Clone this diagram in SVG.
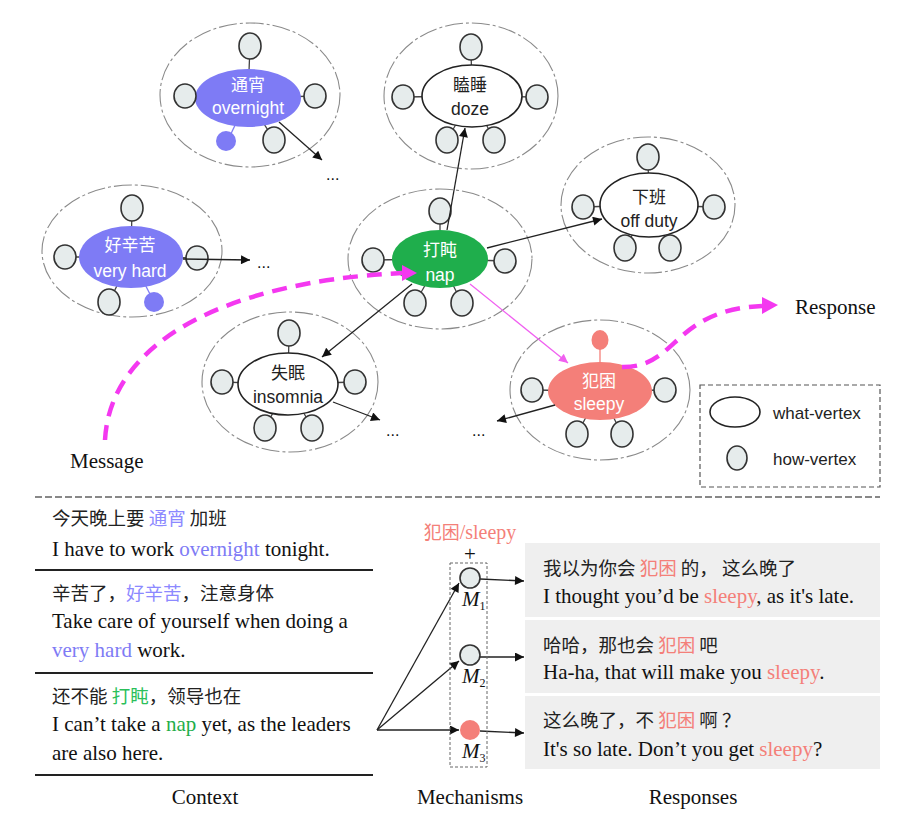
<svg xmlns="http://www.w3.org/2000/svg" width="900" height="830" viewBox="0 0 900 830">
<style>
.cl{fill:none;stroke:#8a8a8a;stroke-width:1.1;stroke-dasharray:18 3 3 3}
.hv{fill:#e6ecec;stroke:#333;stroke-width:1.6}
.sp{stroke:#444;stroke-width:1.3}
.wv{fill:#fff;stroke:#222;stroke-width:1.6}
.nt{font-family:"Liberation Sans",Arial,sans-serif;font-size:17.5px;text-anchor:middle}
.nc{font-family:"Noto Sans CJK SC",sans-serif;font-size:17px;text-anchor:middle}
.w{fill:#fff}
.k{fill:#222}
.e{stroke:#222;stroke-width:1.3;fill:none}
.ser{font-family:"Liberation Serif","Times New Roman",serif;font-size:21px;fill:#111}
.cjk{font-family:"Noto Sans CJK SC",sans-serif;font-size:18.5px;fill:#222}
.dots{font-family:"Liberation Sans",Arial,sans-serif;font-size:16px;fill:#111}
.mag{fill:none;stroke:#f438f0;stroke-width:4.5;stroke-dasharray:15 9}
</style>
<defs>
<marker id="ah" viewBox="0 0 10 10" refX="10" refY="5" markerWidth="12" markerHeight="9" markerUnits="userSpaceOnUse" orient="auto"><path d="M0,0 L10,5 L0,10 z" fill="#111"/></marker>
<marker id="ahp" viewBox="0 0 10 10" refX="10" refY="5" markerWidth="12" markerHeight="9" markerUnits="userSpaceOnUse" orient="auto"><path d="M0,0 L10,5 L0,10 z" fill="#f060f0"/></marker>
</defs>

<!-- overnight cluster -->
<g id="overnight">
<ellipse class="cl" cx="250" cy="95" rx="90" ry="72"/>
<line class="sp" x1="248" y1="98" x2="250" y2="45"/>
<line class="sp" x1="248" y1="98" x2="185" y2="96"/>
<line class="sp" x1="248" y1="98" x2="315" y2="96"/>
<line class="sp" x1="248" y1="98" x2="274" y2="140"/>
<line x1="248" y1="98" x2="228" y2="140" stroke="#7e7bf5" stroke-width="1.3"/>
<ellipse cx="248" cy="98" rx="53" ry="29" fill="#7e7bf5"/>
<ellipse class="hv" cx="250" cy="46" rx="11" ry="13"/>
<ellipse class="hv" cx="185" cy="96" rx="11" ry="12"/>
<ellipse class="hv" cx="315" cy="96" rx="11" ry="12"/>
<ellipse class="hv" cx="274" cy="140" rx="11" ry="13"/>
<circle cx="226" cy="141" r="10" fill="#7e7bf5"/>
<text class="nc w" x="248" y="91">通宵</text>
<text class="nt w" x="248" y="114">overnight</text>
</g>

<!-- very hard cluster -->
<g id="veryhard">
<ellipse class="cl" cx="132" cy="251" rx="90" ry="66"/>
<line class="sp" x1="131" y1="257" x2="132" y2="208"/>
<line class="sp" x1="131" y1="257" x2="65" y2="257"/>
<line class="sp" x1="131" y1="257" x2="197" y2="258"/>
<line class="sp" x1="131" y1="257" x2="109" y2="302"/>
<line x1="131" y1="257" x2="154" y2="302" stroke="#7e7bf5" stroke-width="1.3"/>
<ellipse cx="131" cy="257" rx="52" ry="31" fill="#7e7bf5"/>
<ellipse class="hv" cx="132" cy="208" rx="11" ry="13"/>
<ellipse class="hv" cx="65" cy="257" rx="11" ry="12"/>
<ellipse class="hv" cx="197" cy="258" rx="11" ry="12"/>
<ellipse class="hv" cx="109" cy="302" rx="11" ry="13"/>
<circle cx="154" cy="302" r="10" fill="#7e7bf5"/>
<text class="nc w" x="130" y="251">好辛苦</text>
<text class="nt w" x="130" y="277">very hard</text>
</g>

<!-- nap cluster -->
<g id="nap">
<ellipse class="cl" cx="440" cy="259" rx="92" ry="70"/>
<line class="sp" x1="440" y1="259" x2="440" y2="210"/>
<line class="sp" x1="440" y1="259" x2="373" y2="260"/>
<line class="sp" x1="440" y1="259" x2="505" y2="261"/>
<line class="sp" x1="440" y1="259" x2="415" y2="303"/>
<line class="sp" x1="440" y1="259" x2="462" y2="303"/>
<ellipse cx="440" cy="259" rx="48" ry="29" fill="#1fae4c"/>
<ellipse class="hv" cx="440" cy="211" rx="11" ry="13"/>
<ellipse class="hv" cx="373" cy="260" rx="11" ry="12"/>
<ellipse class="hv" cx="505" cy="261" rx="11" ry="12"/>
<ellipse class="hv" cx="415" cy="303" rx="11" ry="13"/>
<ellipse class="hv" cx="462" cy="303" rx="11" ry="13"/>
<text class="nc w" x="440" y="256">打盹</text>
<text class="nt w" x="440" y="281">nap</text>
</g>

<!-- doze cluster -->
<g id="doze">
<ellipse class="cl" cx="471" cy="96" rx="87" ry="73"/>
<line class="sp" x1="472" y1="96" x2="471" y2="47"/>
<line class="sp" x1="472" y1="96" x2="403" y2="97"/>
<line class="sp" x1="472" y1="96" x2="537" y2="97"/>
<line class="sp" x1="472" y1="96" x2="447" y2="140"/>
<line class="sp" x1="472" y1="96" x2="494" y2="140"/>
<ellipse class="wv" cx="472" cy="96" rx="50" ry="31"/>
<ellipse class="hv" cx="471" cy="47" rx="11" ry="13"/>
<ellipse class="hv" cx="403" cy="97" rx="11" ry="12"/>
<ellipse class="hv" cx="537" cy="97" rx="11" ry="12"/>
<ellipse class="hv" cx="447" cy="140" rx="11" ry="13"/>
<ellipse class="hv" cx="494" cy="140" rx="11" ry="13"/>
<text class="nc k" x="470" y="91">瞌睡</text>
<text class="nt k" x="470" y="115">doze</text>
</g>

<!-- off duty cluster -->
<g id="offduty">
<ellipse class="cl" cx="648" cy="205" rx="87" ry="68"/>
<line class="sp" x1="649" y1="205" x2="648" y2="157"/>
<line class="sp" x1="649" y1="205" x2="583" y2="207"/>
<line class="sp" x1="649" y1="205" x2="714" y2="207"/>
<line class="sp" x1="649" y1="205" x2="625" y2="248"/>
<line class="sp" x1="649" y1="205" x2="670" y2="248"/>
<ellipse class="wv" cx="649" cy="205" rx="49" ry="32"/>
<ellipse class="hv" cx="648" cy="157" rx="11" ry="13"/>
<ellipse class="hv" cx="583" cy="207" rx="11" ry="12"/>
<ellipse class="hv" cx="714" cy="207" rx="11" ry="12"/>
<ellipse class="hv" cx="625" cy="248" rx="11" ry="13"/>
<ellipse class="hv" cx="670" cy="248" rx="11" ry="13"/>
<text class="nc k" x="649" y="203">下班</text>
<text class="nt k" x="649" y="227">off duty</text>
</g>

<!-- insomnia cluster -->
<g id="insomnia">
<ellipse class="cl" cx="290" cy="382" rx="88" ry="70"/>
<line class="sp" x1="288" y1="384" x2="289" y2="333"/>
<line class="sp" x1="288" y1="384" x2="222" y2="382"/>
<line class="sp" x1="288" y1="384" x2="355" y2="382"/>
<line class="sp" x1="288" y1="384" x2="265" y2="428"/>
<line class="sp" x1="288" y1="384" x2="312" y2="428"/>
<ellipse class="wv" cx="288" cy="384" rx="50" ry="31"/>
<ellipse class="hv" cx="289" cy="333" rx="11" ry="13"/>
<ellipse class="hv" cx="222" cy="382" rx="11" ry="12"/>
<ellipse class="hv" cx="355" cy="382" rx="11" ry="12"/>
<ellipse class="hv" cx="265" cy="428" rx="11" ry="13"/>
<ellipse class="hv" cx="312" cy="428" rx="11" ry="13"/>
<text class="nc k" x="288" y="379">失眠</text>
<text class="nt k" x="288" y="403">insomnia</text>
</g>

<!-- sleepy cluster -->
<g id="sleepy">
<ellipse class="cl" cx="600" cy="390" rx="90" ry="70"/>
<line x1="600" y1="391" x2="600" y2="340" stroke="#f47f79" stroke-width="1.3"/>
<line class="sp" x1="600" y1="391" x2="532" y2="390"/>
<line class="sp" x1="600" y1="391" x2="665" y2="390"/>
<line class="sp" x1="600" y1="391" x2="577" y2="434"/>
<line class="sp" x1="600" y1="391" x2="622" y2="434"/>
<ellipse cx="600" cy="391" rx="52" ry="29" fill="#f47f79"/>
<ellipse cx="600" cy="340" rx="8.5" ry="10" fill="#f47f79"/>
<ellipse class="hv" cx="532" cy="390" rx="11" ry="12"/>
<ellipse class="hv" cx="665" cy="390" rx="11" ry="12"/>
<ellipse class="hv" cx="577" cy="434" rx="11" ry="13"/>
<ellipse class="hv" cx="622" cy="434" rx="11" ry="13"/>
<text class="nc w" x="599" y="387">犯困</text>
<text class="nt w" x="599" y="410">sleepy</text>
</g>

<!-- connectors -->
<g id="connectors">
<line class="e" x1="279" y1="122" x2="322" y2="160" marker-end="url(#ah)"/>
<line class="e" x1="183" y1="259" x2="250" y2="260" marker-end="url(#ah)"/>
<line class="e" x1="447" y1="230" x2="465" y2="128" marker-end="url(#ah)"/>
<line class="e" x1="487" y1="248" x2="602" y2="219" marker-end="url(#ah)"/>
<line class="e" x1="412" y1="284" x2="322" y2="357" marker-end="url(#ah)"/>
<line class="e" x1="333" y1="402" x2="380" y2="420" marker-end="url(#ah)"/>
<line class="e" x1="555" y1="405" x2="497" y2="421" marker-end="url(#ah)"/>
<line x1="470" y1="284" x2="568" y2="363" stroke="#f060f0" stroke-width="1.3" marker-end="url(#ahp)"/>
<path class="mag" d="M105,440 C110,345 220,282 402,273"/>
<polygon points="417,273 402,265 402,281" fill="#f438f0"/>
<path class="mag" d="M622,367 C678,368 672,310 762,306"/>
<polygon points="778,305 762,297 762,314" fill="#f438f0"/>
<line class="e" x1="377" y1="730" x2="459" y2="583" marker-end="url(#ah)"/>
<line class="e" x1="377" y1="730" x2="459" y2="661" marker-end="url(#ah)"/>
<line class="e" x1="377" y1="730" x2="459" y2="730" marker-end="url(#ah)"/>
<line class="e" x1="480" y1="579" x2="524" y2="581" marker-end="url(#ah)"/>
<line class="e" x1="480" y1="657" x2="524" y2="657" marker-end="url(#ah)"/>
<line class="e" x1="480" y1="731" x2="524" y2="733" marker-end="url(#ah)"/>
</g>

<text class="dots" x="326" y="180">...</text>
<text class="dots" x="257" y="268">...</text>
<text class="dots" x="386" y="436">...</text>
<text class="dots" x="472" y="436">...</text>

<text class="ser" x="70" y="468" font-size="20">Message</text>
<text class="ser" x="795" y="314" font-size="20">Response</text>

<!-- legend -->
<g id="legend">
<rect x="700" y="385" width="180" height="102" fill="none" stroke="#555" stroke-width="1.2" stroke-dasharray="5 3"/>
<ellipse class="wv" cx="735" cy="412" rx="25" ry="15"/>
<text class="nt k" x="773" y="419" style="text-anchor:start;font-size:17px">what-vertex</text>
<ellipse class="hv" cx="737" cy="458" rx="10" ry="12"/>
<text class="nt k" x="773" y="465" style="text-anchor:start;font-size:17px">how-vertex</text>
</g>

<line x1="35" y1="497" x2="880" y2="497" stroke="#888" stroke-width="2" stroke-dasharray="7 3"/>

<!-- context -->
<g id="context">
<text class="cjk" x="52" y="525">今天晚上要 <tspan fill="#8c89ff">通宵</tspan> 加班</text>
<text class="ser" x="52" y="556">I have to work <tspan fill="#7e7bf5">overnight</tspan> tonight.</text>
<line x1="35" y1="570" x2="373" y2="570" stroke="#222" stroke-width="2"/>
<text class="cjk" x="52" y="600">辛苦了，<tspan fill="#8c89ff">好辛苦</tspan>，注意身体</text>
<text class="ser" x="52" y="628">Take care of yourself when doing a</text>
<text class="ser" x="52" y="657"><tspan fill="#7e7bf5">very hard</tspan> work.</text>
<line x1="35" y1="673" x2="373" y2="673" stroke="#222" stroke-width="2"/>
<text class="cjk" x="52" y="703">还不能 <tspan fill="#2bbf5a">打盹</tspan>，领导也在</text>
<text class="ser" x="52" y="731">I can’t take a <tspan fill="#1fae4c">nap</tspan> yet, as the leaders</text>
<text class="ser" x="52" y="760">are also here.</text>
<line x1="35" y1="775" x2="373" y2="775" stroke="#222" stroke-width="2"/>
<text class="ser" x="205" y="804" text-anchor="middle" font-size="20">Context</text>
</g>

<!-- mechanisms -->
<g id="mechanisms">
<text x="470" y="539" text-anchor="middle" font-family="Liberation Serif, Noto Sans CJK SC, serif" font-size="20" fill="#f47f79"><tspan font-family="Noto Sans CJK SC, sans-serif" font-size="18">犯困</tspan>/sleepy</text>
<text class="ser" x="470" y="561" text-anchor="middle" font-size="14">+</text>
<rect x="450" y="563" width="37" height="204" fill="none" stroke="#666" stroke-width="1" stroke-dasharray="3 2"/>
<circle class="hv" cx="470" cy="578" r="10"/>
<circle class="hv" cx="470" cy="655" r="10"/>
<circle cx="470" cy="730" r="10" fill="#f47f79"/>
<text class="ser" x="462" y="606" font-size="17" fill="#666" font-style="italic">M<tspan font-size="12" font-style="normal" dy="4">1</tspan></text>
<text class="ser" x="462" y="683" font-size="17" fill="#666" font-style="italic">M<tspan font-size="12" font-style="normal" dy="4">2</tspan></text>
<text class="ser" x="462" y="758" font-size="17" fill="#666" font-style="italic">M<tspan font-size="12" font-style="normal" dy="4">3</tspan></text>
<text class="ser" x="470" y="804" text-anchor="middle" font-size="20">Mechanisms</text>
</g>

<!-- responses -->
<g id="responses">
<rect x="525" y="543" width="355" height="74" fill="#efefef"/>
<rect x="525" y="620" width="355" height="73" fill="#efefef"/>
<rect x="525" y="696" width="355" height="73" fill="#efefef"/>
<text class="cjk" x="543" y="575">我以为你会 <tspan fill="#f47f79">犯困</tspan> 的， 这么晚了</text>
<text class="ser" x="543" y="603">I thought you’d be <tspan fill="#f47f79">sleepy</tspan>, as it's late.</text>
<text class="cjk" x="543" y="652">哈哈，那也会 <tspan fill="#f47f79">犯困</tspan> 吧</text>
<text class="ser" x="543" y="679">Ha-ha, that will make you <tspan fill="#f47f79">sleepy</tspan>.</text>
<text class="cjk" x="543" y="727">这么晚了，不 <tspan fill="#f47f79">犯困</tspan> 啊 ？</text>
<text class="ser" x="543" y="756">It's so late. Don’t you get <tspan fill="#f47f79">sleepy</tspan>?</text>
<text class="ser" x="693" y="804" text-anchor="middle" font-size="20">Responses</text>
</g>
</svg>
